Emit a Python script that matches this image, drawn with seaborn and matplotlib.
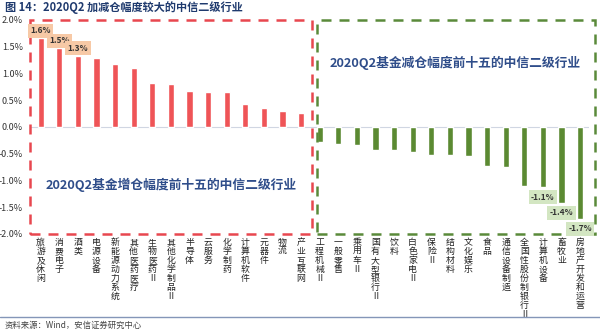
import matplotlib
matplotlib.use("Agg")
import matplotlib.pyplot as plt
import seaborn as sns
import pandas as pd
from matplotlib.patches import Rectangle

sns.set_style("white")
plt.rcParams['font.family'] = ['Noto Sans CJK SC', 'DejaVu Sans']
plt.rcParams['axes.unicode_minus'] = False

categories = ["旅游及休闲", "消费电子", "酒类", "电源设备", "新能源动力系统", "其他医药医疗",
              "生物医药Ⅱ", "其他化学制品Ⅱ", "半导体", "云服务", "化学制药", "计算机软件",
              "元器件", "物流", "产业互联网",
              "工程机械Ⅱ", "一般零售", "乘用车Ⅱ", "国有大型银行Ⅱ", "饮料", "白色家电Ⅱ",
              "保险Ⅱ", "结构材料", "文化娱乐", "食品", "通信设备制造", "全国性股份制银行Ⅱ",
              "计算机设备", "畜牧业", "房地产开发和运营"]
values = [1.66, 1.47, 1.33, 1.29, 1.18, 1.11, 0.83, 0.81, 0.67, 0.65, 0.645, 0.43, 0.36, 0.30, 0.26,
          -0.28, -0.32, -0.33, -0.43, -0.43, -0.47, -0.52, -0.52, -0.55, -0.72, -0.75, -1.11,
          -1.13, -1.42, -1.72]
label_idx = [0, 1, 2, 27, 28, 29]
label_text = ["1.6%", "1.5%", "1.3%", "-1.1%", "-1.4%", "-1.7%"]
yticks = [2.0, 1.5, 1.0, 0.5, 0.0, -0.5, -1.0, -1.5, -2.0]
title = "图 14：2020Q2 加减仓幅度较大的中信二级行业"
box_left_text = "2020Q2基金增仓幅度前十五的中信二级行业"
box_right_text = "2020Q2基金减仓幅度前十五的中信二级行业"
source = "资料来源：Wind，安信证券研究中心"

RED = "#ef5457"
GREEN = "#5b8a32"
colors = [RED if v > 0 else GREEN for v in values]

df = pd.DataFrame({"cat": categories, "val": values})

fig = plt.figure(figsize=(6, 3.31), dpi=100)
ax = fig.add_axes([0.0523, 0.2931, 0.93, 0.6465])
sns.barplot(data=df, x="cat", y="val", hue="cat", palette=colors, legend=False,
            width=0.34, ax=ax, saturation=1)

ax.set_xlim(-0.5, 29.5)
ax.set_ylim(-2.0, 2.0)
ax.set_yticks(yticks)
ax.set_yticklabels([f"{t:.1f}%" for t in yticks], fontsize=6.5, color="#333333")
ax.set_xticks(range(len(categories)))
ax.set_xticklabels(["\n".join(c) for c in categories], fontsize=6.4, color="#222222",
                   linespacing=1.0, va="top")
ax.tick_params(axis="both", length=0, pad=3)
ax.tick_params(axis="y", pad=6)
ax.set_xlabel("")
ax.set_ylabel("")
for s in ax.spines.values():
    s.set_visible(False)
ax.axhline(0, color="#d0d6e2", lw=0.8, zorder=0)

# dashed boxes
ax.add_patch(Rectangle((-0.58, -2.0), 15.16, 4.0, fill=False, edgecolor="#e8474f",
                       lw=1.8, linestyle=(0, (4, 3.2)), clip_on=False, zorder=3))
ax.add_patch(Rectangle((14.84, -2.0), 14.96, 4.0, fill=False, edgecolor="#5a8a3a",
                       lw=1.8, linestyle=(0, (4, 3.2)), clip_on=False, zorder=3))

ax.text(7.0, -1.08, box_left_text, ha="center", va="center", fontsize=9.2,
        fontweight="bold", color="#2f4d8a")
ax.text(22.3, 1.20, box_right_text, ha="center", va="center", fontsize=9.2,
        fontweight="bold", color="#2f4d8a")

for i, t in zip(label_idx, label_text):
    v = values[i]
    if v > 0:
        ax.text(i, v + 0.14, t, ha="center", va="center", fontsize=6, color="#333333",
                fontweight="bold",
                bbox=dict(boxstyle="square,pad=0.3", facecolor="#f7c9a6", edgecolor="none"),
                zorder=5)
    else:
        ax.text(i, v - 0.18, t, ha="center", va="center", fontsize=6, color="#333333",
                fontweight="bold",
                bbox=dict(boxstyle="square,pad=0.3", facecolor="#d3e6c2", edgecolor="none"),
                zorder=5)

fig.text(0.008, 0.978, title, ha="left", va="center", fontsize=8, fontweight="bold",
         color="#1f3a6e")
fig.add_artist(plt.Line2D([0, 1], [1 - 317 / 331, 1 - 317 / 331], color="#8496b8", lw=1.0))
fig.text(0.008, 1 - 325 / 331, source, ha="left", va="center", fontsize=6,
         color="#444444", style="italic")

fig.savefig("out.png", dpi=100)
